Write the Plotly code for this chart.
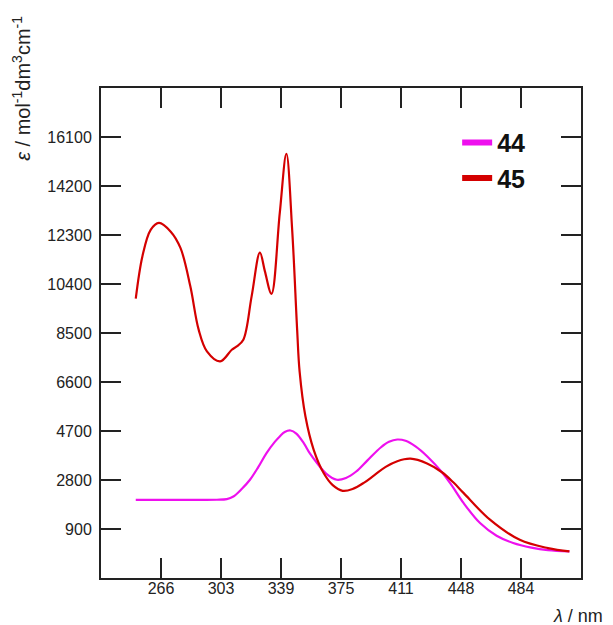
import plotly.graph_objects as go

# Compound 45 (red)
wl_45 = [251, 255, 260, 265, 272, 278, 284, 289, 294, 302, 309, 312, 316, 321, 326, 329,
         333, 338, 342, 345.5, 348.5, 350, 353.5, 358.5, 364.5, 370, 376, 382, 389, 395,
         402, 409, 417, 427, 436, 443, 449, 465, 483, 500, 513]
eps_45 = [9830, 11470, 12500, 12770, 12440, 11800, 10300, 8630, 7790, 7400, 7850, 7980, 8240,
          9920, 11620, 10900, 10020, 13150, 15450, 12500, 8630, 7000, 5270, 3970, 3070, 2600,
          2380, 2450, 2700, 2980, 3310, 3530, 3625, 3440, 3100, 2700, 2300, 1260, 480, 160, 30]

# Compound 44 (magenta)
wl_44 = [251, 270, 290, 300, 306, 310, 315, 320, 325, 330, 335, 338, 341, 344.5, 348, 352.5,
         356, 360.5, 366, 372.5, 378, 384, 391, 399, 404, 409, 414, 420, 427, 436, 442, 449,
         459, 469, 479, 490, 500, 513]
eps_44 = [2030, 2030, 2030, 2035, 2060, 2160, 2450, 2810, 3300, 3845, 4280, 4490, 4660, 4720,
          4600, 4230, 3850, 3460, 3050, 2810, 2880, 3120, 3560, 4060, 4280, 4370, 4320, 4100,
          3720, 3100, 2580, 1910, 1130, 640, 360, 180, 80, 30]

x_range = [230, 520]
x_tickvals = [230 + 36.25 * k for k in range(1, 8)]
x_ticktext = ["266", "303", "339", "375", "411", "448", "484"]
y_range = [-1000, 18000]
y_tickvals = [900, 2800, 4700, 6600, 8500, 10400, 12300, 14200, 16100]
y_ticktext = [str(v) for v in y_tickvals]

series = [("44", wl_44, eps_44, "#EE10EE"), ("45", wl_45, eps_45, "#D40000")]

fig = go.Figure()
for name, xs, ys, col in series:
    fig.add_trace(go.Scatter(x=xs, y=ys, mode="lines", name=name, showlegend=False,
                             line=dict(color=col, width=2.2, shape="spline", smoothing=1.0)))
for name, xs, ys, col in series:
    fig.add_trace(go.Scatter(x=[None], y=[None], mode="lines", name=name, showlegend=True,
                             line=dict(color=col, width=6)))

axis_common = dict(showline=True, linewidth=2, linecolor="#222", mirror="ticks",
                   ticks="inside", ticklen=20, tickwidth=2, tickcolor="#222",
                   showgrid=False, zeroline=False,
                   tickfont=dict(family="Arial, Liberation Sans", size=16, color="#222"))

fig.update_xaxes(range=x_range, tickmode="array", tickvals=x_tickvals, ticktext=x_ticktext,
                 ticklabelstandoff=-5, **axis_common)
fig.update_yaxes(range=y_range, tickmode="array", tickvals=y_tickvals, ticktext=y_ticktext,
                 ticklabelstandoff=4, **axis_common)

fig.add_annotation(text="<i>ε</i> / mol<sup>-1</sup>dm<sup>3</sup>cm<sup>-1</sup>",
                   xref="paper", yref="paper", x=-0.167, y=1.0, textangle=-90,
                   showarrow=False, xanchor="center", yanchor="middle",
                   font=dict(family="Arial, Liberation Sans", size=20, color="#222"))
fig.add_annotation(text="<i>λ</i> / nm", xref="paper", yref="paper", x=1.05, y=-0.078,
                   showarrow=False, xanchor="right", yanchor="middle",
                   font=dict(family="Arial, Liberation Sans", size=18, color="#222"))

# page body has an 8px margin, so the figure is sized 8px smaller and offsets reduced
fig.update_layout(
    width=605, height=617,
    margin=dict(l=93, r=32, t=80, b=47),
    paper_bgcolor="white", plot_bgcolor="white",
    legend=dict(x=0.742, y=0.935, xanchor="left", yanchor="top", itemwidth=30,
                bgcolor="rgba(0,0,0,0)",
                font=dict(family="Arial, Liberation Sans", size=25, color="#111",
                          weight="bold")),
)

fig.write_html("out.html")
